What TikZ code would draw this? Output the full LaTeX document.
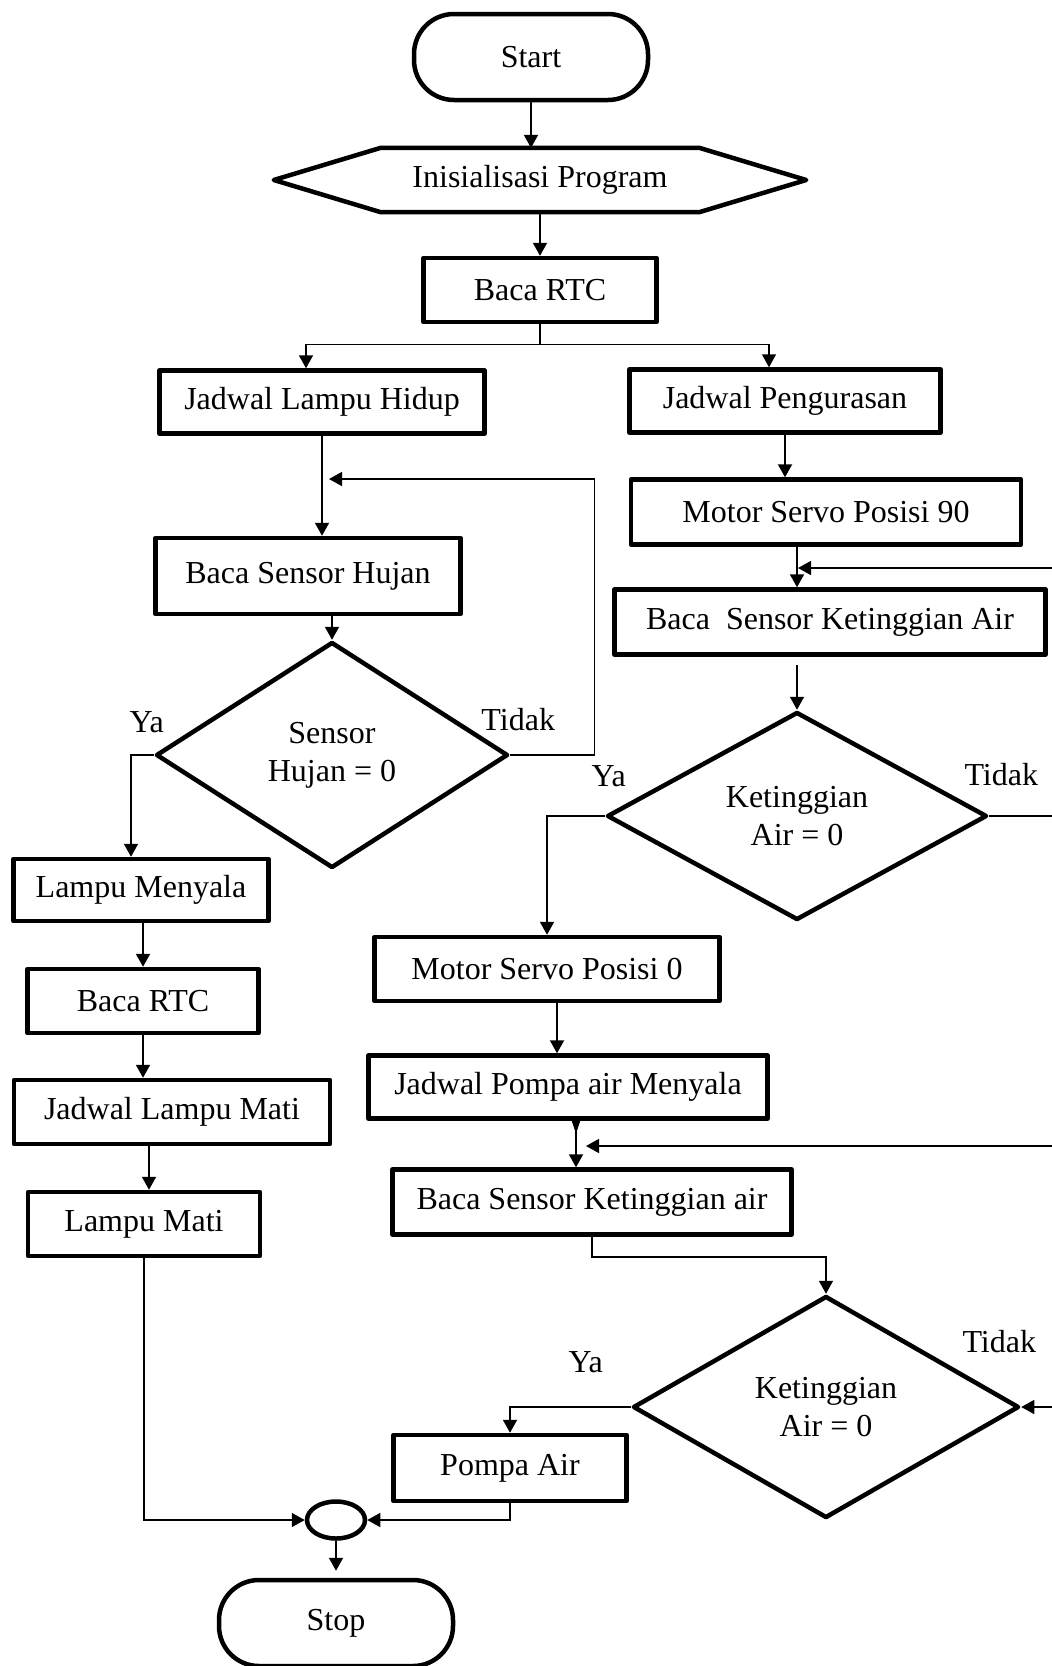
\documentclass[tikz,border=0pt]{standalone}
\usepackage{fontspec}
\setmainfont{Liberation Serif}
\usetikzlibrary{arrows.meta, shapes.geometric}

\begin{document}
\begin{tikzpicture}[
  x=1pt, y=-1pt,
  font=\fontsize{32}{38}\selectfont,
  box/.style = {
    rectangle, draw, line width=4.5pt, line join=round,
    inner sep=0pt, align=center, minimum height=64pt
  },
  term/.style = {box, rounded corners=40pt, minimum width=234pt, minimum height=86pt},
  cond/.style = {
    diamond, draw, line width=4.5pt, line join=round,
    inner sep=0pt, align=center
  },
  arr/.style = {-{Triangle[length=13pt, width=14pt]}, line width=2pt},
  link/.style = {line width=1.5pt}
]
  \useasboundingbox (0,0) rectangle (1052,1666);
  \clip (0,0) rectangle (1052,1666);

  \node[term] (start) at (531,57) {Start};
  \node[inner sep=0pt, minimum width=532pt, minimum height=64pt] (init) at (540,180) {Inisialisasi Program};
  \draw[line width=4.5pt, line join=round] (init.west) -- ([xshift=107pt]init.north west)
    -- ([xshift=-107pt]init.north east) -- (init.east)
    -- ([xshift=-107pt]init.south east) -- ([xshift=107pt]init.south west) -- cycle;
  \node[box, minimum width=233pt] (rtc1) at (540,290) {Baca RTC};

  % left branch
  \node[box, minimum width=325pt, minimum height=63pt] (jlh) at (322,402) {Jadwal Lampu Hidup};
  \node[box, minimum width=305pt, minimum height=76pt] (bsh) at (308,576) {Baca Sensor Hujan};
  \node[cond, minimum width=352pt, minimum height=226pt] (sh) at (332,755) {Sensor\\Hujan = 0};
  \node[box, minimum width=255pt, minimum height=62pt] (lm1) at (141,890) {Lampu Menyala};
  \node[box, minimum width=231pt] (rtc2) at (143,1001) {Baca RTC};
  \node[box, minimum width=316pt] (jlm) at (172,1112) {Jadwal Lampu Mati};
  \node[box, minimum width=232pt] (lmt) at (144,1224) {Lampu Mati};

  % right branch
  \node[box, minimum width=311pt, minimum height=63pt] (jp) at (785,401) {Jadwal Pengurasan};
  \node[box, minimum width=390pt, minimum height=65pt] (ms90) at (826,512) {Motor Servo Posisi 90};
  \node[box, minimum width=431pt, minimum height=65pt] (bska) at (830,622) {Baca~~Sensor Ketinggian Air};
  \node[cond, minimum width=380pt, minimum height=208pt] (d1) at (797,816) {Ketinggian\\Air = 0};
  \node[box, minimum width=345pt] (ms0) at (547,969) {Motor Servo Posisi 0};
  \node[box, minimum width=399pt, minimum height=63pt] (jpam) at (568,1087) {Jadwal Pompa air Menyala};
  \node[box, minimum width=399pt, minimum height=65pt] (bska2) at (592,1202) {Baca Sensor Ketinggian air};
  \node[cond, minimum width=386pt, minimum height=222pt] (d3) at (826,1407) {Ketinggian\\Air = 0};
  \node[box, minimum width=233pt, minimum height=66pt] (pompa) at (510,1468) {Pompa Air};

  \node[ellipse, draw, line width=4.5pt, inner sep=0pt, minimum width=58pt, minimum height=37pt] (join) at (336,1520) {};
  \node[term] (stop) at (336,1623) {Stop};

  \coordinate (shback) at (329,479);
  \coordinate (kback) at (798,568);
  \coordinate (aback) at (586,1146);

  \draw[arr] (start.south) -- (start.south |- init.north);
  \draw[arr] (init.south) -- (rtc1.north);
  \draw[link] (rtc1.south) -- ++(0,20) coordinate (split);
  \draw[arr, link] (split) -| ([xshift=-16pt]jlh.north);
  \draw[arr, link] (split) -| ([xshift=-16pt]jp.north);

  \draw[arr] (jlh.south) -- (jlh.south |- bsh.north);
  \draw[arr] (sh.north |- bsh.south) -- (sh.north);
  \draw[arr] (sh.west) -| ([xshift=-10pt]lm1.north);
  \draw[arr, link] (sh.east) -- ++(84,0) |- (shback);
  \draw[arr] (rtc2.north |- lm1.south) -- (rtc2.north);
  \draw[arr] (rtc2.south) -- (rtc2.south |- jlm.north);
  \draw[arr] ([xshift=5pt]lmt.north |- jlm.south) -- ([xshift=5pt]lmt.north);
  \draw[arr, link] (lmt.south) |- (join.west);

  \draw[arr] (jp.south) -- (jp.south |- ms90.north);
  \draw[arr] (d1.north |- ms90.south) -- (d1.north |- bska.north);
  \draw[arr] ([yshift=-8pt]d1.north |- bska.south) -- (d1.north);
  \draw[arr, link] (d1.east) -- ++(80,0) |- (kback);
  \draw[arr] (d1.west) -| (ms0.north);
  \draw[arr] ([xshift=10pt]ms0.south) -- ([xshift=10pt]ms0.south |- jpam.north);
  \draw[{Triangle[reversed, length=13pt, width=8pt]}-{Triangle[length=13pt, width=14pt]}, line width=2pt]
    ([xshift=8pt]jpam.south) -- ([xshift=8pt]jpam.south |- bska2.north);
  \draw[arr, link] (bska2.south) -- ++(0,20) -| (d3.north);
  \draw[link, {Triangle[length=13pt, width=14pt]}-{Triangle[length=13pt, width=14pt]}]
    (d3.east) -- ++(60,0) |- (aback);
  \draw[arr] (d3.west) -| (pompa.north);
  \draw[arr, link] (pompa.south) |- (join.east);
  \draw[arr] (join.south) -- ([yshift=7pt]stop.north);

  \node (ya1) at ([xshift=-7pt, yshift=33pt]sh.west) {Ya};
  \node (tidak1) at ([xshift=8pt, yshift=35pt]sh.east) {Tidak};
  \node (ya2) at ([xshift=4pt, yshift=40pt]d1.west) {Ya};
  \node (tidak2) at ([xshift=12pt, yshift=41pt]d1.east) {Tidak};
  \node (ya3) at ([xshift=-45pt, yshift=45pt]d3.west) {Ya};
  \node (tidak3) at ([xshift=-22pt, yshift=65pt]d3.east) {Tidak};
\end{tikzpicture}
\end{document}
